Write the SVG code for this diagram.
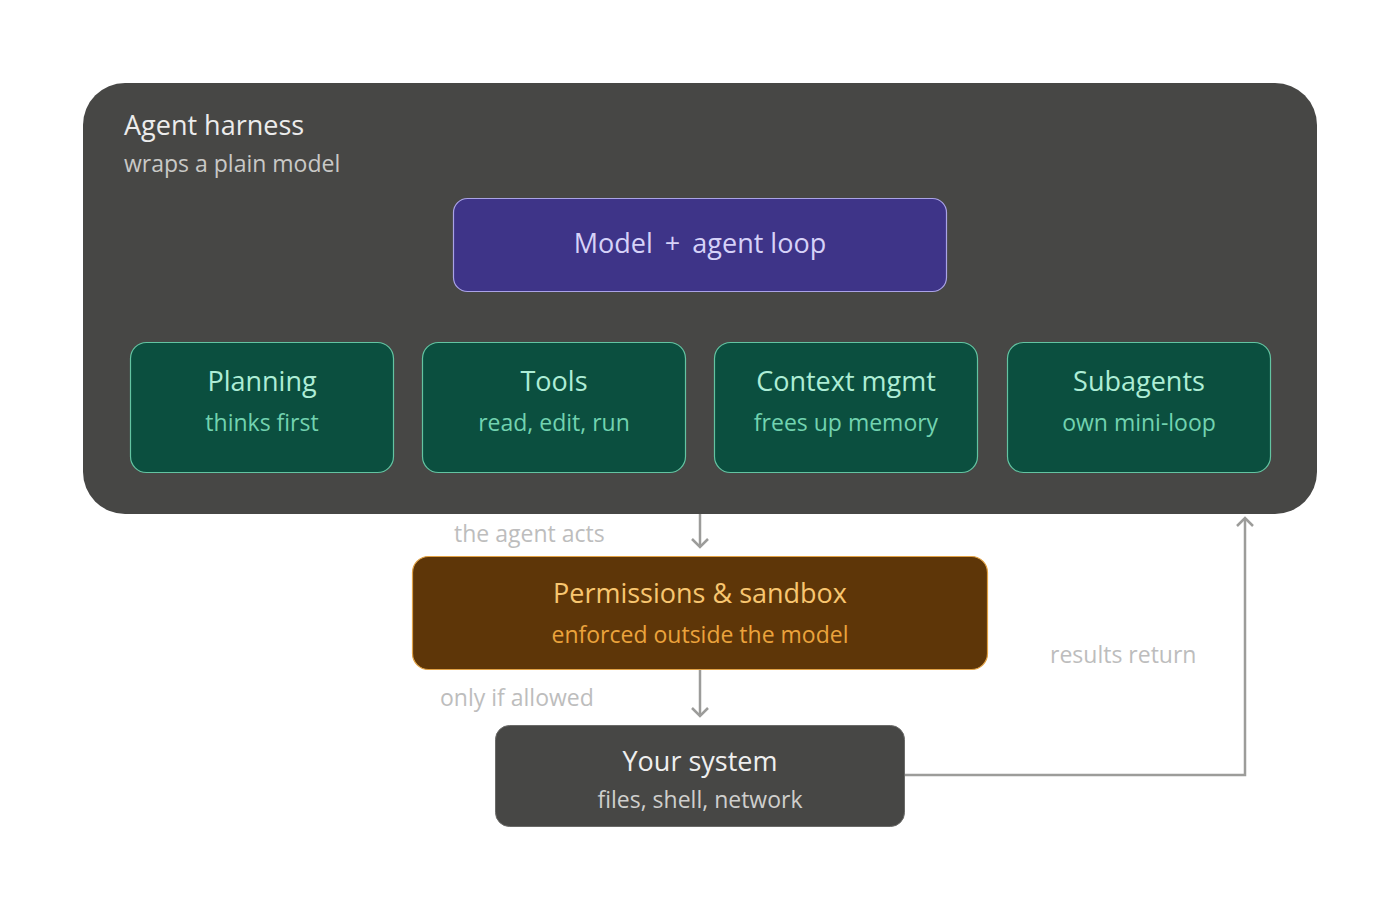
<svg xmlns="http://www.w3.org/2000/svg" width="1400" height="916" viewBox="0 0 1400 916">
<defs>
<style>
text{font-family:"Open Sans","Noto Sans","Liberation Sans",sans-serif;}
.c{text-anchor:middle;}
.green rect{fill:#0b4f3f;stroke:#63c4a2;stroke-width:1.2;}
.gt{font-size:27px;fill:#aeedd6;}
.gs{font-size:23px;fill:#72d3b0;}
.lbl{font-size:23px;fill:#bdbdbd;}
.conn{fill:none;stroke:#9c9c9a;stroke-width:2.5;}
</style>
<marker id="arr" viewBox="0 0 20 20" refX="10" refY="10" markerWidth="20" markerHeight="20" markerUnits="userSpaceOnUse" orient="auto">
<path d="M2,2 L10,10 L2,18" fill="none" stroke="#9c9c9a" stroke-width="2.5"/>
</marker>
</defs>
<rect width="1400" height="916" fill="#ffffff"/>
<g id="harness">
<rect x="83" y="83" width="1234" height="431" rx="42" fill="#474745"/>
<text x="124" y="135" style="font-size:27px;fill:#ececec">Agent harness</text>
<text x="124" y="172" style="font-size:23px;fill:#c9c9c7">wraps a plain model</text>
</g>
<g id="model">
<rect x="453.5" y="198.5" width="493" height="93" rx="14" fill="#3e3488" stroke="#aaa3e6" stroke-width="1.2"/>
<text class="c" x="700" y="253" style="font-size:27px;fill:#d6d2f8"><tspan style="word-spacing:5px">Model + </tspan>agent loop</text>
</g>
<g id="planning" class="green">
<rect x="130.5" y="342.5" width="263" height="130" rx="16"/>
<text class="c gt" x="262" y="391">Planning</text>
<text class="c gs" x="262" y="431">thinks first</text>
</g>
<g id="tools" class="green">
<rect x="422.5" y="342.5" width="263" height="130" rx="16"/>
<text class="c gt" x="554" y="391">Tools</text>
<text class="c gs" x="554" y="431">read, edit, run</text>
</g>
<g id="context" class="green">
<rect x="714.5" y="342.5" width="263" height="130" rx="16"/>
<text class="c gt" x="846" y="391">Context mgmt</text>
<text class="c gs" x="846" y="431">frees up memory</text>
</g>
<g id="subagents" class="green">
<rect x="1007.5" y="342.5" width="263" height="130" rx="16"/>
<text class="c gt" x="1139" y="391">Subagents</text>
<text class="c gs" x="1139" y="431">own mini-loop</text>
</g>
<g id="permissions">
<rect x="412.5" y="556.5" width="575" height="113" rx="16" fill="#5e3608" stroke="#e2a245" stroke-width="1.2"/>
<text class="c" x="700" y="603" style="font-size:27px;fill:#f8c670">Permissions &amp; sandbox</text>
<text class="c" x="700" y="643" style="font-size:23px;fill:#eba33c">enforced outside the model</text>
</g>
<g id="system">
<rect x="495.5" y="725.5" width="409" height="101" rx="14" fill="#474745" stroke="#6a6a68" stroke-width="1"/>
<text class="c" x="700" y="771" style="font-size:27px;fill:#efefef">Your system</text>
<text class="c" x="700" y="808" style="font-size:23px;fill:#cfcfcd">files, shell, network</text>
</g>
<g id="connectors">
<path class="conn" d="M700,514 L700,547" marker-end="url(#arr)"/>
<path class="conn" d="M700,670 L700,716" marker-end="url(#arr)"/>
<path class="conn" d="M905,775 L1245,775 L1245,518" marker-end="url(#arr)"/>
<text class="lbl" x="454" y="542">the agent acts</text>
<text class="lbl" x="440" y="706">only if allowed</text>
<text class="lbl" x="1050" y="663">results return</text>
</g>
</svg>
